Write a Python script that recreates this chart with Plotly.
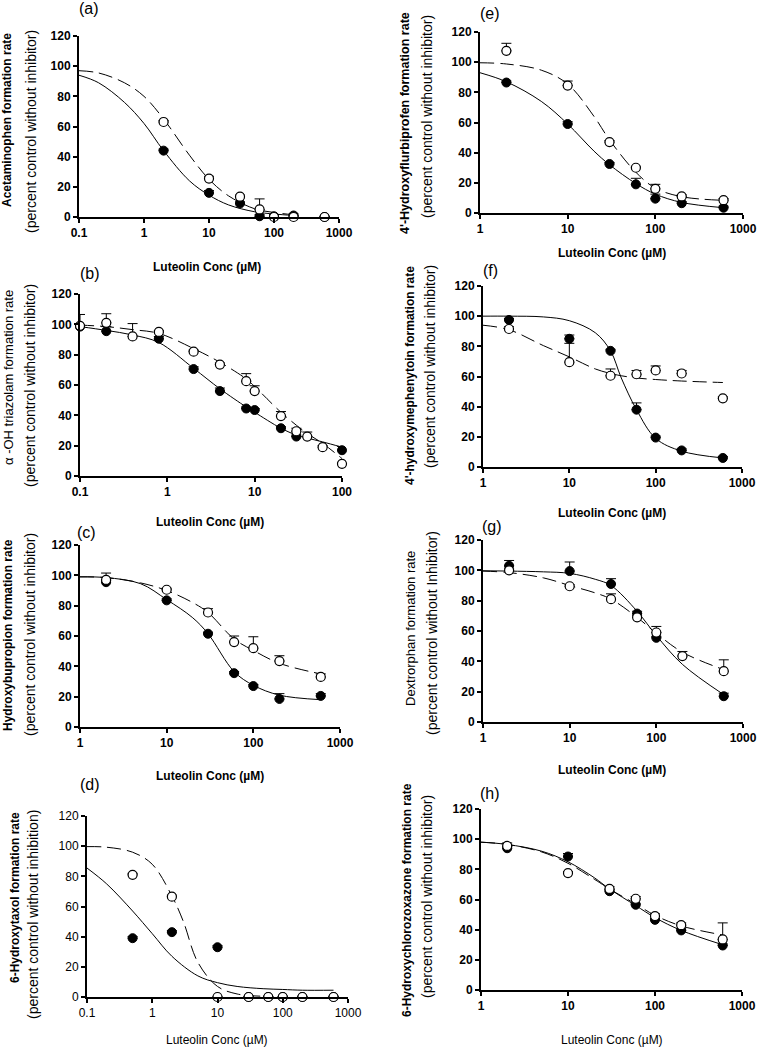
import plotly.graph_objects as go

W, H = 757, 1050

# ---------------- data ----------------
# (a) Acetaminophen
a_x = [2, 10, 30, 60, 100, 200, 600]
a_filled = [44, 16, 9, 0.5, 0.5, 1, 0]
a_filled_err = [1, 1.5, 1, 1, 1, 1, 0]
a_open = [63, 25.5, 13.5, 5, 0, 0, 0]
a_open_err = [1, 1.5, 1, 7, 0, 0, 0]
a_fit_x = [0.1, 0.2, 0.5, 1, 2, 5, 10, 20, 50, 100, 200]
a_fit_filled = [94, 89, 76, 62, 44, 24, 14.5, 8, 3.5, 2, 1]
a_fit_open = [97, 95.5, 89, 80, 65, 41, 25, 14, 5.5, 3, 1.5]

# (b) alpha-OH triazolam
b_fx = [0.1, 0.2, 0.8, 2, 4, 8, 10, 20, 30, 100]
b_filled = [98.5, 95.5, 90.5, 70.5, 56, 44.5, 43.5, 31.5, 26, 17]
b_filled_err = [1, 3, 1.5, 1.5, 2, 1, 1, 1, 1, 2.5]
b_ox = [0.1, 0.2, 0.4, 0.8, 2, 4, 8, 10, 20, 30, 40, 60, 100]
b_open = [99, 101, 92, 95, 82, 73.5, 62.5, 56, 39.5, 29.5, 26, 19, 8]
b_open_err = [7.5, 6, 8.5, 1, 1, 1, 5, 3.5, 3, 2, 3, 1, 1]
b_fit_x = [0.1, 0.2, 0.4, 0.8, 2, 4, 8, 10, 20, 30, 40, 60, 100]
b_fit_filled = [98.5, 96, 93, 88, 71, 57.5, 45.5, 42, 31.5, 27, 25, 22.5, 19]
b_fit_open = [99.5, 98.5, 96.5, 94, 84, 75, 64, 59, 42, 33.5, 28, 21.5, 11.5]

# (c) Hydroxybupropion
c_x = [2, 10, 30, 60, 100, 200, 600]
c_filled = [95.5, 83.5, 61.5, 35.5, 27, 18.5, 20.5]
c_filled_err = [1, 1, 1, 1, 1, 3.5, 1.5]
c_open = [97, 90.5, 75.5, 56, 52, 43.5, 33]
c_open_err = [4.5, 1, 2.5, 4, 7.5, 3.5, 2]
c_fit_x = [1, 2, 5, 10, 20, 30, 60, 100, 200, 600]
c_fit_filled = [99, 98.5, 94.5, 84, 72, 61.5, 36.5, 27.5, 21, 18]
c_fit_open = [99, 98.5, 95, 90, 82, 75.5, 58, 50.5, 42, 35]

# (d) 6-Hydroxytaxol
d_x = [0.5, 2, 10, 30, 60, 100, 200, 600]
d_filled = [39, 43, 33, 0, 0, 0, 0, 0]
d_filled_err = [1, 1, 1, 0, 0, 0, 0, 0]
d_open = [81, 66.5, 0, 0, 0, 0, 0, 0]
d_open_err = [1, 1, 0, 0, 0, 0, 0, 0]
d_fit_fx = [0.1, 0.2, 0.5, 1, 2, 5, 10, 20, 50, 100, 200, 600]
d_fit_filled = [85.5, 75, 57, 42, 27, 14, 9.5, 7, 5.5, 5, 4.5, 4.5]
d_fit_ox = [0.1, 0.2, 0.5, 1, 2, 3, 5, 10, 20, 50]
d_fit_open = [99.7, 99.3, 96, 88, 67, 50, 23, 7, 2, 0.5]

# (e) 4'-Hydroxyflurbiprofen
e_x = [2, 10, 30, 60, 100, 200, 600]
e_filled = [86.5, 59, 32.5, 19, 9.5, 6.5, 3.5]
e_filled_err = [1, 1.5, 1, 4, 3, 1, 1]
e_open = [107.5, 84.5, 47, 30, 16, 11, 8.5]
e_open_err = [5, 3, 1, 1, 3, 1, 1]
e_fit_x = [1, 2, 5, 10, 20, 30, 60, 100, 200, 600]
e_fit_filled = [93, 87, 74, 59, 41, 32, 19.5, 12.5, 7, 3.5]
e_fit_open = [99.6, 98.8, 94.7, 85.5, 64, 48.5, 27, 16.5, 10.8, 8.4]

# (f) 4'-hydroxymephenytoin
f_x = [2, 10, 30, 60, 100, 200, 600]
f_filled = [97.5, 85, 77, 38, 19.5, 11, 6]
f_filled_err = [1, 2.5, 1, 4.5, 1, 1, 1]
f_open = [91.5, 69.5, 60.5, 61.5, 64, 62, 45.5]
f_open_err = [1.5, 12.5, 4.5, 2.5, 3, 2, 1]
f_fit_x = [1, 2, 5, 10, 20, 30, 40, 60, 100, 200, 600]
f_fit_filled = [100, 100, 99.5, 97, 89, 77, 59, 38, 19, 10.5, 6]
f_fit_open = [94, 91, 80.5, 73, 65, 62, 60.5, 59, 58, 57, 56]

# (g) Dextrorphan
g_fx = [2, 10, 30, 60, 100, 600]
g_filled = [103, 99.5, 91, 71.5, 55.5, 17]
g_filled_err = [3.5, 6, 3.5, 1.5, 1, 2]
g_ox = [2, 10, 30, 60, 100, 200, 600]
g_open = [100, 89.5, 81, 69, 59, 43.5, 33.5]
g_open_err = [1, 1, 3.5, 1, 4, 3, 7.5]
g_fit_x = [1, 2, 5, 10, 20, 30, 60, 100, 200, 600]
g_fit_filled = [99.7, 99.5, 99, 98, 94, 90, 73, 57, 38, 18]
g_fit_open = [99.5, 98.5, 95, 90, 85, 81, 69, 58.5, 46, 34.5]

# (h) 6-Hydroxychlorozoxazone
h_x = [2, 10, 30, 60, 100, 200, 600]
h_filled = [94, 88.5, 65.5, 56.5, 46.5, 39.5, 29.5]
h_filled_err = [1, 2, 1, 1, 1, 1, 1]
h_open = [95.5, 77.5, 67, 60.5, 49, 43, 33.5]
h_open_err = [2, 1, 1.5, 1.5, 1.5, 1.5, 11]
h_fit_x = [1, 2, 5, 10, 20, 30, 60, 100, 200, 600]
h_fit_filled = [98, 96.5, 92, 85, 74.5, 67, 56, 48, 39.5, 30]
h_fit_open = [98, 96.5, 91.5, 84, 73.5, 67, 57, 49.5, 42.5, 36.5]

y_ticks = [0, 20, 40, 60, 80, 100, 120]
x_title = "Luteolin Conc (µM)"
panel_letters = ["(a)", "(b)", "(c)", "(d)", "(e)", "(f)", "(g)", "(h)"]
y_title1 = ["Acetaminophen formation rate", "α -OH triazolam formation rate",
            "Hydroxybupropion formation rate", "6-Hydroxytaxol formation rate",
            "4'-Hydroxyflurbiprofen formation rate", "4'-hydroxymephenytoin formation rate",
            "Dextrorphan formation rate", "6-Hydroxychlorozoxazone formation rate"]
y_title2 = ["(percent control without inhibitor)"] * 3 + ["(percent control without inhibition)"] + \
           ["(percent control without inhibitor)"] * 2 + ["(percent control without Inhibitor)"] + \
           ["(percent control without inhibitor)"]

panels = [
    dict(fx=a_x, fy=a_filled, fe=a_filled_err, ox=a_x, oy=a_open, oe=a_open_err,
         sfx=a_fit_x, sfy=a_fit_filled, dox=a_fit_x, doy=a_fit_open, dec=(-1, 3)),
    dict(fx=b_fx, fy=b_filled, fe=b_filled_err, ox=b_ox, oy=b_open, oe=b_open_err,
         sfx=b_fit_x, sfy=b_fit_filled, dox=b_fit_x, doy=b_fit_open, dec=(-1, 2)),
    dict(fx=c_x, fy=c_filled, fe=c_filled_err, ox=c_x, oy=c_open, oe=c_open_err,
         sfx=c_fit_x, sfy=c_fit_filled, dox=c_fit_x, doy=c_fit_open, dec=(0, 3)),
    dict(fx=d_x, fy=d_filled, fe=d_filled_err, ox=d_x, oy=d_open, oe=d_open_err,
         sfx=d_fit_fx, sfy=d_fit_filled, dox=d_fit_ox, doy=d_fit_open, dec=(-1, 3)),
    dict(fx=e_x, fy=e_filled, fe=e_filled_err, ox=e_x, oy=e_open, oe=e_open_err,
         sfx=e_fit_x, sfy=e_fit_filled, dox=e_fit_x, doy=e_fit_open, dec=(0, 3)),
    dict(fx=f_x, fy=f_filled, fe=f_filled_err, ox=f_x, oy=f_open, oe=f_open_err,
         sfx=f_fit_x, sfy=f_fit_filled, dox=f_fit_x, doy=f_fit_open, dec=(0, 3)),
    dict(fx=g_fx, fy=g_filled, fe=g_filled_err, ox=g_ox, oy=g_open, oe=g_open_err,
         sfx=g_fit_x, sfy=g_fit_filled, dox=g_fit_x, doy=g_fit_open, dec=(0, 3)),
    dict(fx=h_x, fy=h_filled, fe=h_filled_err, ox=h_x, oy=h_open, oe=h_open_err,
         sfx=h_fit_x, sfy=h_fit_filled, dox=h_fit_x, doy=h_fit_open, dec=(0, 3)),
]

# ---------------- layout geometry (pixels) ----------------
# plot boxes: (left, right, top(=120), bottom(=0))
boxes = [(79, 339, 36, 217), (80, 342, 294, 476), (80, 340, 545, 727), (87, 348, 816, 997),
         (480, 743, 32, 213), (483, 742, 286, 467), (483, 743, 540, 722), (481, 742, 809, 990)]
letter_pos = [(89, 8), (90, 273), (86, 532), (90, 784), (490, 14), (490, 270), (492, 526), (490, 793)]
xtitle_pos = [(207, 267), (210, 522), (210, 776), (217, 1040), (612, 253), (612, 513), (612, 770), (612, 1040)]
ytitle1_pos = [(7, 120), (8, 378), (8, 635), (15, 898), (405, 123), (410, 375), (410, 628), (407, 900)]
ytitle2_pos = [(31, 132), (30, 386), (30, 635), (33, 915), (427, 117), (430, 367), (432, 633), (427, 897)]
ytitle1_style = [("bold", 12), ("normal", 13), ("bold", 12), ("bold", 12),
                 ("bold", 12.5), ("bold", 12), ("normal", 13), ("bold", 12)]
xtitle_bold = [True, True, True, False, True, True, True, False]
tick_bold = [True, True, True, False, True, True, True, True]

FONT = "Liberation Sans, Arial, sans-serif"
fig = go.Figure()
layout = dict(width=W, height=H, margin=dict(l=0, r=0, t=0, b=0, autoexpand=False),
              plot_bgcolor="white", paper_bgcolor="white", showlegend=False,
              font=dict(family=FONT, color="black"))
annotations = []


def px_x(p):
    return p / W


def px_y(p):
    return 1 - p / H


for i, p in enumerate(panels):
    n = i + 1
    xa = "x" if n == 1 else f"x{n}"
    ya = "y" if n == 1 else f"y{n}"
    l, r, t, b = boxes[i]
    lo, hi = p["dec"]
    decs = [10 ** k for k in range(lo, hi + 1)]
    labels = [("%g" % v) for v in decs]

    fig.add_trace(go.Scatter(x=p["sfx"], y=p["sfy"], mode="lines", xaxis=xa, yaxis=ya,
                             line=dict(color="black", width=1, shape="spline", smoothing=1.0)))
    fig.add_trace(go.Scatter(x=p["dox"], y=p["doy"], mode="lines", xaxis=xa, yaxis=ya,
                             line=dict(color="black", width=1, shape="spline", smoothing=1.0,
                                       dash="14px,6px")))
    fig.add_trace(go.Scatter(x=p["fx"], y=p["fy"], mode="markers", xaxis=xa, yaxis=ya, cliponaxis=False,
                             marker=dict(symbol="circle", size=9, color="black",
                                         line=dict(color="black", width=1)),
                             error_y=dict(type="data", symmetric=False, array=p["fe"],
                                          arrayminus=[0] * len(p["fe"]), color="black",
                                          thickness=1, width=5)))
    fig.add_trace(go.Scatter(x=p["ox"], y=p["oy"], mode="markers", xaxis=xa, yaxis=ya, cliponaxis=False,
                             marker=dict(symbol="circle", size=9, color="white",
                                         line=dict(color="black", width=1.2)),
                             error_y=dict(type="data", symmetric=False, array=p["oe"],
                                          arrayminus=[0] * len(p["oe"]), color="black",
                                          thickness=1, width=5)))

    axis_common = dict(showline=True, linecolor="black", linewidth=2, ticks="outside",
                       ticklen=4, tickwidth=1.5, tickcolor="black", showgrid=False, zeroline=False,
                       automargin=False,
                       tickfont=dict(family=FONT, size=12, color="black",
                                     weight="bold" if tick_bold[i] else "normal"))
    layout["xaxis" if n == 1 else f"xaxis{n}"] = dict(
        type="log", range=[lo, hi], domain=[px_x(l), px_x(r)], anchor=ya,
        tickvals=decs, ticktext=labels, **axis_common)
    layout["yaxis" if n == 1 else f"yaxis{n}"] = dict(
        range=[0, 120], domain=[px_y(b), px_y(t)], anchor=xa,
        tickvals=y_ticks, ticktext=[str(v) for v in y_ticks], **axis_common)

    lx, ly = letter_pos[i]
    annotations.append(dict(text=panel_letters[i], x=px_x(lx), y=px_y(ly), xref="paper", yref="paper",
                            showarrow=False, xanchor="center", yanchor="middle",
                            font=dict(family=FONT, size=16, color="black")))
    tx, ty = xtitle_pos[i]
    annotations.append(dict(text=x_title, x=px_x(tx), y=px_y(ty), xref="paper", yref="paper",
                            showarrow=False, xanchor="center", yanchor="middle",
                            font=dict(family=FONT, size=12, color="black",
                                      weight="bold" if xtitle_bold[i] else "normal")))
    y1x, y1y = ytitle1_pos[i]
    w1, s1 = ytitle1_style[i]
    annotations.append(dict(text=y_title1[i], x=px_x(y1x), y=px_y(y1y), xref="paper", yref="paper",
                            showarrow=False, xanchor="center", yanchor="middle", textangle=-90,
                            font=dict(family=FONT, size=s1, color="black", weight=w1)))
    y2x, y2y = ytitle2_pos[i]
    annotations.append(dict(text=y_title2[i], x=px_x(y2x), y=px_y(y2y), xref="paper", yref="paper",
                            showarrow=False, xanchor="center", yanchor="middle", textangle=-90,
                            font=dict(family=FONT, size=14, color="black")))

layout["annotations"] = annotations
fig.update_layout(**layout)
fig.write_html("out.html", config={"displayModeBar": False},
               post_script="document.body.style.margin='0px';document.body.style.overflow='hidden';")
